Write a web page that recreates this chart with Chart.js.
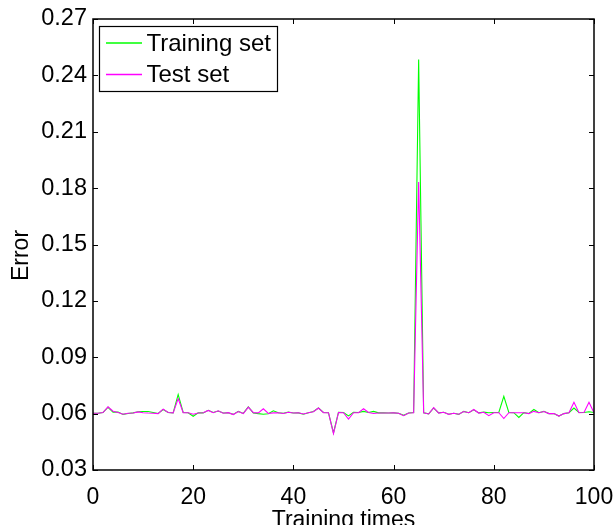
<!DOCTYPE html>
<html>
<head>
<meta charset="utf-8">
<script src="https://cdn.jsdelivr.net/npm/chart.js@4/dist/chart.umd.min.js"></script>
<style>
  html, body { margin: 0; padding: 0; background: #fff; }
  #wrap { width: 616px; height: 525px; }
</style>
</head>
<body>
<div id="wrap"><canvas id="c" width="616" height="525"></canvas></div>
<script>
// Error per training run, runs 0..100
const trainingSet = [
  0.0602, 0.0602, 0.0606, 0.0634, 0.0608, 0.0608, 0.0596, 0.0601, 0.0604, 0.0610,
  0.0611, 0.0611, 0.0606, 0.0601, 0.0622, 0.0606, 0.0604, 0.0702, 0.0606, 0.0605,
  0.0586, 0.0604, 0.0604, 0.0618, 0.0606, 0.0614, 0.0603, 0.0605, 0.0596, 0.0612,
  0.0601, 0.0636, 0.0604, 0.0600, 0.0597, 0.0599, 0.0615, 0.0605, 0.0602, 0.0608,
  0.0603, 0.0604, 0.0597, 0.0605, 0.0611, 0.0630, 0.0606, 0.0605, 0.0497, 0.0607,
  0.0606, 0.0588, 0.0607, 0.0606, 0.0612, 0.0606, 0.0612, 0.0604, 0.0604, 0.0603,
  0.0604, 0.0602, 0.0591, 0.0603, 0.0606, 0.2485, 0.0605, 0.0599, 0.0630, 0.0604,
  0.0607, 0.0597, 0.0602, 0.0596, 0.0612, 0.0605, 0.0620, 0.0604, 0.0608, 0.0605,
  0.0606, 0.0606, 0.0692, 0.0606, 0.0605, 0.0580, 0.0605, 0.0601, 0.0622, 0.0605,
  0.0612, 0.0600, 0.0601, 0.0587, 0.0600, 0.0605, 0.0630, 0.0606, 0.0606, 0.0610,
  0.0606
];
const testSet = [
  0.0602, 0.0602, 0.0606, 0.0636, 0.0613, 0.0606, 0.0597, 0.0602, 0.0603, 0.0609,
  0.0605, 0.0603, 0.0602, 0.0600, 0.0624, 0.0606, 0.0604, 0.0680, 0.0605, 0.0605,
  0.0597, 0.0603, 0.0605, 0.0617, 0.0605, 0.0615, 0.0602, 0.0605, 0.0595, 0.0611,
  0.0600, 0.0635, 0.0605, 0.0604, 0.0626, 0.0601, 0.0604, 0.0605, 0.0601, 0.0607,
  0.0603, 0.0605, 0.0598, 0.0605, 0.0610, 0.0630, 0.0605, 0.0605, 0.0494, 0.0606,
  0.0605, 0.0571, 0.0605, 0.0605, 0.0626, 0.0606, 0.0601, 0.0603, 0.0603, 0.0603,
  0.0604, 0.0602, 0.0589, 0.0603, 0.0605, 0.1833, 0.0604, 0.0598, 0.0632, 0.0603,
  0.0607, 0.0596, 0.0602, 0.0597, 0.0611, 0.0605, 0.0622, 0.0603, 0.0607, 0.0589,
  0.0605, 0.0605, 0.0574, 0.0605, 0.0605, 0.0605, 0.0605, 0.0600, 0.0612, 0.0605,
  0.0611, 0.0600, 0.0601, 0.0587, 0.0600, 0.0605, 0.0660, 0.0605, 0.0606, 0.0660,
  0.0605
];

const xTickValues = [0, 20, 40, 60, 80, 100];
const xTickLabels = ['0', '20', '40', '60', '80', '100'];
const yTickValues = [0.03, 0.06, 0.09, 0.12, 0.15, 0.18, 0.21, 0.24, 0.27];
const yTickLabels = ['0.03', '0.06', '0.09', '0.12', '0.15', '0.18', '0.21', '0.24', '0.27'];

const seriesColors = ['#00ff00', '#ff00ff'];
const FONT = '"Liberation Sans", Arial, Helvetica, sans-serif';

// Axes box, inward tick marks on all four sides, y label and the boxed legend
const framePlugin = {
  id: 'frame',
  afterDatasetsDraw(chart) {
    const { ctx, chartArea: a, scales: { x, y } } = chart;
    ctx.save();
    ctx.strokeStyle = '#000';
    ctx.lineWidth = 1.5;
    ctx.strokeRect(a.left, a.top, a.right - a.left, a.bottom - a.top);
    ctx.beginPath();
    const tl = 5;
    x.ticks.forEach(t => {
      const px = Math.round(x.getPixelForValue(t.value)) + 0.5;
      ctx.moveTo(px, a.bottom); ctx.lineTo(px, a.bottom - tl);
      ctx.moveTo(px, a.top); ctx.lineTo(px, a.top + tl);
    });
    y.ticks.forEach(t => {
      const py = Math.round(y.getPixelForValue(t.value)) + 0.5;
      ctx.moveTo(a.left, py); ctx.lineTo(a.left + tl, py);
      ctx.moveTo(a.right, py); ctx.lineTo(a.right - tl, py);
    });
    ctx.lineWidth = 1;
    ctx.stroke();

    // y axis label, rotated
    ctx.save();
    ctx.translate(22, (a.top + a.bottom) / 2 + 11);
    ctx.rotate(-Math.PI / 2);
    ctx.font = '23px ' + FONT;
    ctx.fillStyle = '#000';
    ctx.textAlign = 'center';
    ctx.textBaseline = 'middle';
    ctx.fillText('Error', 0, 0);
    ctx.restore();

    // legend
    const bx = 99.5, by = 26.5, bw = 178, bh = 65;
    ctx.fillStyle = '#fff';
    ctx.fillRect(bx, by, bw, bh);
    ctx.lineWidth = 1.2;
    ctx.strokeStyle = '#000';
    ctx.strokeRect(bx, by, bw, bh);
    ctx.font = '24px ' + FONT;
    ctx.textBaseline = 'middle';
    ctx.textAlign = 'left';
    const rows = [43, 74.5];
    chart.data.datasets.forEach((ds, i) => {
      ctx.beginPath();
      ctx.strokeStyle = seriesColors[i];
      ctx.lineWidth = 1.3;
      ctx.moveTo(106, rows[i]); ctx.lineTo(142, rows[i]);
      ctx.stroke();
      ctx.fillStyle = '#000';
      ctx.fillText(ds.label, 146.5, rows[i] + 1);
    });
    ctx.restore();
  }
};

new Chart(document.getElementById('c'), {
  type: 'line',
  data: {
    datasets: [
      {
        label: 'Training set',
        data: trainingSet.map((v, i) => ({ x: i, y: v })),
        borderColor: seriesColors[0],
        borderWidth: 1.1,
        pointRadius: 0,
        tension: 0,
        order: 2
      },
      {
        label: 'Test set',
        data: testSet.map((v, i) => ({ x: i, y: v })),
        borderColor: seriesColors[1],
        borderWidth: 1.1,
        pointRadius: 0,
        tension: 0,
        order: 1
      }
    ]
  },
  options: {
    responsive: false,
    animation: false,
    devicePixelRatio: 1,
    layout: { padding: { top: 19, right: 22, left: 0, bottom: 0 } },
    plugins: { legend: { display: false }, tooltip: { enabled: false } },
    scales: {
      x: {
        type: 'linear',
        min: 0,
        max: 100,
        afterFit(s) { s.height = 55; s.paddingLeft = 0; s.paddingRight = 0; },
        afterBuildTicks(s) { s.ticks = xTickValues.map(v => ({ value: v })); },
        grid: { display: false, drawTicks: false },
        border: { display: false },
        ticks: {
          padding: 14,
          color: '#000',
          font: { family: FONT, size: 23 },
          maxRotation: 0,
          callback: (v) => xTickLabels[xTickValues.indexOf(v)]
        },
        title: {
          display: true,
          text: 'Training times',
          color: '#000',
          font: { family: FONT, size: 23, lineHeight: 0.4 },
          padding: { top: 0, bottom: 0 }
        }
      },
      y: {
        type: 'linear',
        min: 0.03,
        max: 0.27,
        afterFit(s) { s.width = 93; s.paddingTop = 0; s.paddingBottom = 0; },
        afterBuildTicks(s) { s.ticks = yTickValues.map(v => ({ value: v })); },
        grid: { display: false, drawTicks: false },
        border: { display: false },
        ticks: {
          padding: 6,
          color: '#000',
          font: { family: FONT, size: 23.5 },
          callback: (v) => yTickLabels[yTickValues.indexOf(v)]
        },
        title: { display: false }
      }
    }
  },
  plugins: [framePlugin]
});
</script>
</body>
</html>
